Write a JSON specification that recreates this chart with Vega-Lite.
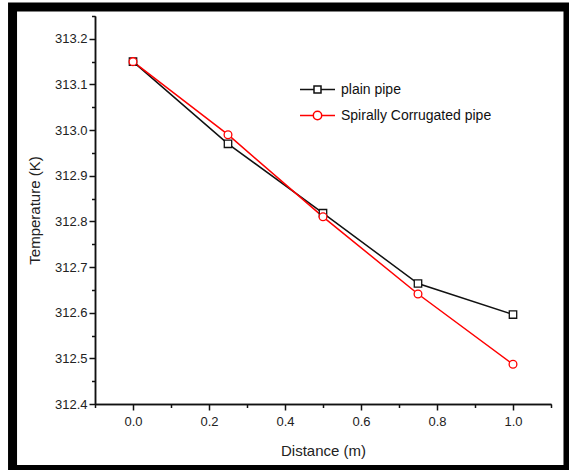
{
  "$schema": "https://vega.github.io/schema/vega-lite/v6.json",
  "width": 456,
  "height": 388,
  "autosize": {"type": "none"},
  "padding": {"left": 95, "top": 16, "right": 18, "bottom": 66},
  "background": "white",
  "config": {
    "view": {"stroke": null},
    "font": "Liberation Sans",
    "axis": {
      "grid": false,
      "domainColor": "#111",
      "domainWidth": 1.5,
      "tickColor": "#111",
      "tickWidth": 1.5,
      "labelFont": "Liberation Sans",
      "labelFontSize": 13,
      "labelColor": "#222",
      "titleFont": "Liberation Sans",
      "titleFontSize": 15,
      "titleFontWeight": "normal",
      "titleColor": "#222",
      "labelPadding": 2,
      "labelOverlap": false
    }
  },
  "resolve": {"axis": {"x": "independent", "y": "independent"}},
  "datasets": {
    "temps": [
      {"distance": 0.0, "temperature": 313.15, "series": "plain pipe"},
      {"distance": 0.25, "temperature": 312.97, "series": "plain pipe"},
      {"distance": 0.5, "temperature": 312.818, "series": "plain pipe"},
      {"distance": 0.75, "temperature": 312.664, "series": "plain pipe"},
      {"distance": 1.0, "temperature": 312.596, "series": "plain pipe"},
      {"distance": 0.0, "temperature": 313.15, "series": "Spirally Corrugated pipe"},
      {"distance": 0.25, "temperature": 312.99, "series": "Spirally Corrugated pipe"},
      {"distance": 0.5, "temperature": 312.81, "series": "Spirally Corrugated pipe"},
      {"distance": 0.75, "temperature": 312.641, "series": "Spirally Corrugated pipe"},
      {"distance": 1.0, "temperature": 312.487, "series": "Spirally Corrugated pipe"}
    ]
  },
  "layer": [
    {
      "data": {"values": [{}]},
      "mark": {"type": "rect", "filled": false, "stroke": "black", "strokeWidth": 9},
      "encoding": {
        "x": {
          "datum": -0.317, "type": "quantitative",
          "scale": {"domain": [-0.1, 1.1], "nice": false, "zero": false},
          "axis": {"orient": "bottom", "title": null, "labels": false, "values": [-0.1, 0.1, 0.3, 0.5, 0.7, 0.9, 1.1], "tickSize": 3.5}
        },
        "x2": {"datum": 1.1447},
        "y": {
          "datum": 313.2698, "type": "quantitative",
          "scale": {"domain": [312.4, 313.25], "nice": false, "zero": false},
          "axis": {"orient": "left", "title": null, "labels": false, "values": [312.45, 312.55, 312.65, 312.75, 312.85, 312.95, 313.05, 313.15, 313.25], "tickSize": 3.5}
        },
        "y2": {"datum": 312.2566}
      }
    },
    {
      "data": {"name": "temps"},
      "mark": {"type": "line", "strokeWidth": 1.5},
      "encoding": {
        "x": {
          "field": "distance", "type": "quantitative",
          "scale": {"domain": [-0.1, 1.1], "nice": false, "zero": false},
          "axis": {
            "orient": "bottom",
            "title": "Distance (m)",
            "values": [0.0, 0.2, 0.4, 0.6, 0.8, 1.0],
            "format": ".1f",
            "tickSize": 6,
            "labelPadding": 5,
            "titlePadding": 15
          }
        },
        "y": {
          "field": "temperature", "type": "quantitative",
          "scale": {"domain": [312.4, 313.25], "nice": false, "zero": false},
          "axis": {
            "orient": "left",
            "title": "Temperature (K)",
            "values": [312.4, 312.5, 312.6, 312.7, 312.8, 312.9, 313.0, 313.1, 313.2],
            "format": ".1f",
            "tickSize": 6,
            "titlePadding": 12
          }
        },
        "color": {
          "field": "series", "type": "nominal",
          "scale": {"domain": ["plain pipe", "Spirally Corrugated pipe"], "range": ["#111111", "#ff0000"]},
          "legend": {
            "title": null,
            "orient": "none",
            "legendX": 204,
            "legendY": 55,
            "padding": 0,
            "labelFont": "Liberation Sans",
            "labelFontSize": 14,
            "labelColor": "#111",
            "labelOffset": 5,
            "symbolSize": 1225,
            "symbolStrokeWidth": 1.5,
            "symbolFillColor": "white",
            "rowPadding": -17,
            "encode": {
              "symbols": {
                "update": {
                  "shape": {"signal": "datum.value === 'plain pipe' ? 'M-1,0H-0.2M0.2,0H1M-0.2,-0.2H0.2V0.2H-0.2Z' : 'M-1,0H-0.24M1,0H0.24M-0.24,0A0.24,0.24 0 1,0 0.24,0A0.24,0.24 0 1,0 -0.24,0Z'"},
                  "fill": {"value": "white"}
                }
              }
            }
          }
        }
      }
    },
    {
      "data": {"name": "temps"},
      "transform": [{"filter": "datum.series === 'plain pipe'"}],
      "mark": {"type": "point", "shape": "square", "filled": false, "fill": "white", "fillOpacity": 1, "opacity": 1, "strokeWidth": 1.3, "size": 55},
      "encoding": {
        "x": {"field": "distance", "type": "quantitative", "axis": null},
        "y": {"field": "temperature", "type": "quantitative", "axis": null},
        "color": {"field": "series", "type": "nominal"}
      }
    },
    {
      "data": {"name": "temps"},
      "transform": [{"filter": "datum.series === 'Spirally Corrugated pipe'"}],
      "mark": {"type": "point", "shape": "circle", "filled": false, "fill": "white", "fillOpacity": 1, "opacity": 1, "strokeWidth": 1.3, "size": 60},
      "encoding": {
        "x": {"field": "distance", "type": "quantitative", "axis": null},
        "y": {"field": "temperature", "type": "quantitative", "axis": null},
        "color": {"field": "series", "type": "nominal"}
      }
    }
  ]
}
